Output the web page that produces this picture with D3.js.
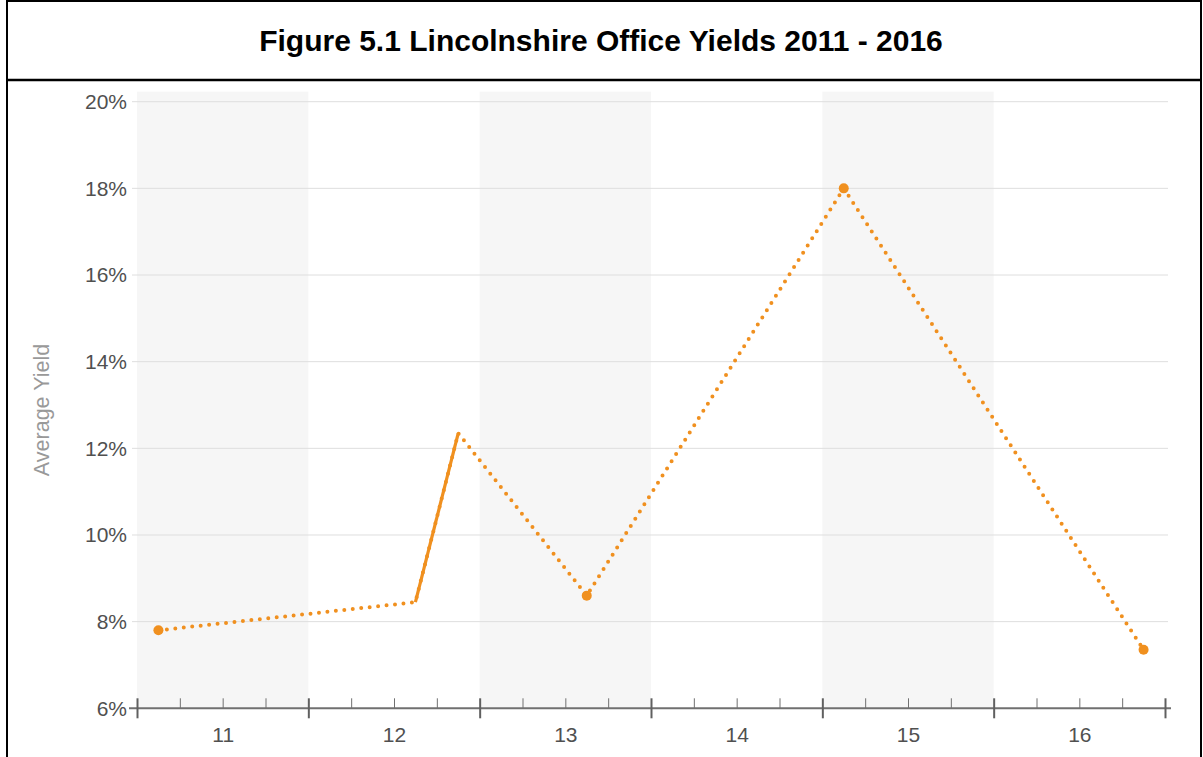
<!DOCTYPE html>
<html>
<head>
<meta charset="utf-8">
<script src="https://cdn.jsdelivr.net/npm/d3@7"></script>
<style>
  body { margin: 0; background: #fff; }
  svg { display: block; font-family: Arial, 'Liberation Sans', sans-serif; }
</style>
</head>
<body>
<div id="chart"></div>
<script>
// quarterly series 2011 Q1 .. 2016 Q4, null = no deals that quarter
const years = [2011, 2012, 2013, 2014, 2015, 2016]
const yearLabels = ['11', '12', '13', '14', '15', '16']
const shadedYears = [2011, 2013, 2015]
const yieldTicks = [6, 8, 10, 12, 14, 16, 18, 20]
const quarterYields = [
  7.8, null, null, null,
  null, null, 8.45, 12.35,
  null, null, 8.6, null,
  null, null, null, null,
  18.0, null, null, null,
  null, null, null, 7.35
]

const width = 1203
const height = 757
const plot = { left: 137, right: 1165, top: 101.7, bottom: 708.3 }
const orange = '#f0901f'

const data = quarterYields.map((v, i) => ({
  t: years[0] + Math.floor(i / 4) + (i % 4 + 0.5) / 4,
  value: v,
  isolated: v != null && quarterYields[i - 1] == null && quarterYields[i + 1] == null
}))

const svg = d3.select('#chart')
  .append('svg')
  .attr('width', width)
  .attr('height', height)

const x = d3.scaleLinear()
  .domain([years[0], years[years.length - 1] + 1])
  .range([plot.left, plot.right])
const y = d3.scaleLinear()
  .domain([6, 20])
  .range([plot.bottom, plot.top])

// frame + title
svg.append('rect')
  .attr('x', 7).attr('y', 1)
  .attr('width', 1194).attr('height', 770)
  .attr('fill', 'none')
  .attr('stroke', '#000')
  .attr('stroke-width', 2)
svg.append('line')
  .attr('x1', 7).attr('x2', 1201)
  .attr('y1', 80).attr('y2', 80)
  .attr('stroke', '#000')
  .attr('stroke-width', 2.5)
svg.append('text')
  .attr('x', 601)
  .attr('y', 51)
  .attr('text-anchor', 'middle')
  .attr('font-size', 30)
  .attr('font-weight', 'bold')
  .attr('fill', '#000')
  .text('Figure 5.1 Lincolnshire Office Yields 2011 - 2016')

// alternating year bands
svg.append('g')
  .selectAll('rect')
  .data(shadedYears)
  .join('rect')
  .attr('x', d => x(d))
  .attr('width', d => x(d + 1) - x(d))
  .attr('y', plot.top - 10)
  .attr('height', plot.bottom - plot.top + 10)
  .attr('fill', '#f6f6f6')

// gridlines
svg.append('g')
  .selectAll('line')
  .data(yieldTicks.slice(1))
  .join('line')
  .attr('x1', plot.left - 5)
  .attr('x2', plot.right + 3)
  .attr('y1', d => y(d))
  .attr('y2', d => y(d))
  .attr('stroke', '#dedede')
  .attr('stroke-width', 1)

// y axis labels
const yAxis = svg.append('g')
  .attr('transform', `translate(${plot.left},0)`)
  .call(d3.axisLeft(y).tickValues(yieldTicks).tickFormat(d => d + '%').tickSize(0).tickPadding(10))
yAxis.select('.domain').remove()
yAxis.selectAll('text')
  .attr('font-size', 21)
  .attr('font-family', 'Arial, Liberation Sans, sans-serif')
  .attr('fill', '#505050')

svg.append('text')
  .attr('transform', 'translate(49,410) rotate(-90)')
  .attr('text-anchor', 'middle')
  .attr('font-size', 21.5)
  .attr('fill', '#999')
  .text('Average Yield')

// x axis: minor quarter ticks
const quarterTicks = d3.range(years[0], years[years.length - 1] + 1, 0.25)
  .filter(d => d % 1 !== 0)
const minorAxis = svg.append('g')
  .attr('transform', `translate(0,${plot.bottom})`)
  .call(d3.axisTop(x).tickValues(quarterTicks).tickFormat('').tickSize(10))
minorAxis.select('.domain').remove()
minorAxis.selectAll('line').attr('stroke', '#707070').attr('stroke-width', 1)

const majorAxis = svg.append('g')
  .attr('transform', `translate(0,${plot.bottom})`)
  .call(d3.axisBottom(x).tickValues(d3.range(years[0], years[years.length - 1] + 2)).tickFormat('').tickSizeOuter(0))
majorAxis.select('.domain')
  .attr('d', `M${plot.left - 8},0H${plot.right + 6}`)
  .attr('stroke', '#707070')
  .attr('stroke-width', 2)
majorAxis.selectAll('.tick line')
  .attr('y1', -10)
  .attr('y2', 10)
  .attr('stroke', '#606060')
  .attr('stroke-width', 2)

const labelAxis = svg.append('g')
  .attr('transform', `translate(0,${plot.bottom})`)
  .call(d3.axisBottom(x).tickValues(years.map(d => d + 0.5)).tickFormat((d, i) => yearLabels[i]).tickSize(0).tickPadding(19))
labelAxis.select('.domain').remove()
labelAxis.selectAll('text')
  .attr('font-size', 21)
  .attr('font-family', 'Arial, Liberation Sans, sans-serif')
  .attr('fill', '#505050')

// dotted line bridging the gaps
const line = d3.line()
  .x(d => x(d.t))
  .y(d => y(d.value))

svg.append('path')
  .datum(data.filter(d => d.value != null))
  .attr('fill', 'none')
  .attr('stroke', orange)
  .attr('stroke-width', 4)
  .attr('stroke-linecap', 'round')
  .attr('stroke-dasharray', '0 8.5')
  .attr('d', line)

// solid line where quarters are consecutive
svg.append('path')
  .datum(data)
  .attr('fill', 'none')
  .attr('stroke', orange)
  .attr('stroke-width', 3.2)
  .attr('stroke-linejoin', 'round')
  .attr('d', line.defined(d => d.value != null))

svg.append('g')
  .selectAll('circle')
  .data(data.filter(d => d.isolated))
  .join('circle')
  .attr('cx', d => x(d.t))
  .attr('cy', d => y(d.value))
  .attr('r', 5)
  .attr('fill', orange)
</script>
</body>
</html>
